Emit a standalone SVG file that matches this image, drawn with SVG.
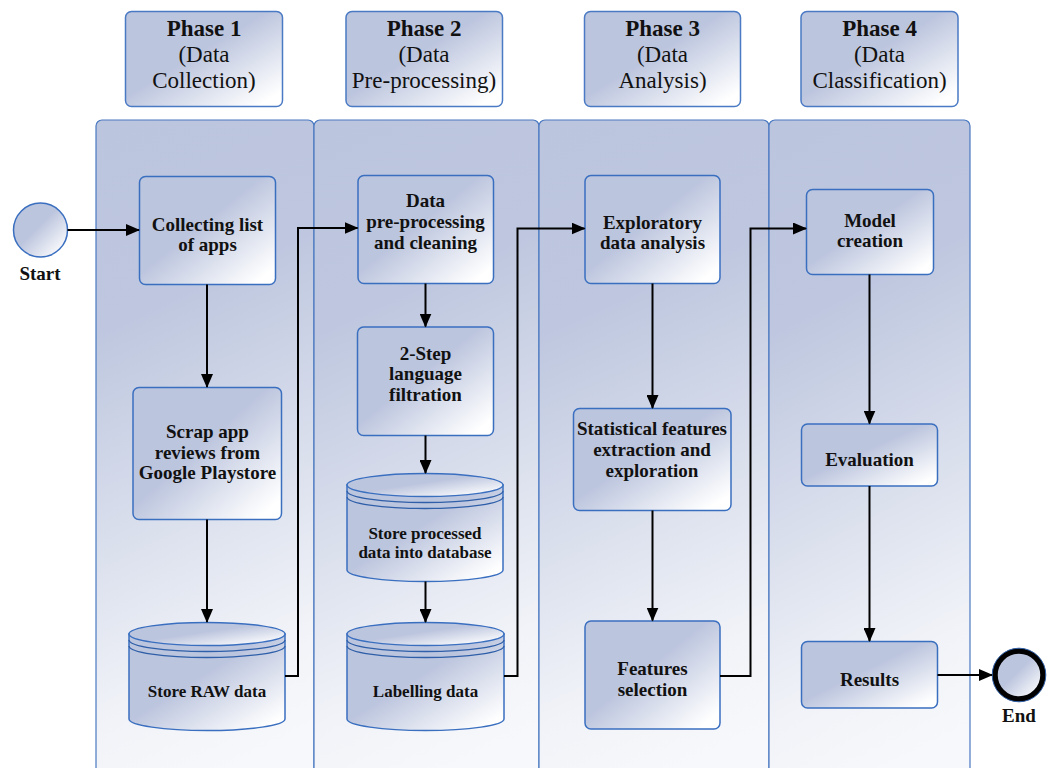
<svg xmlns="http://www.w3.org/2000/svg" width="1053" height="768" viewBox="0 0 1053 768">
<defs>
<linearGradient id="gNode" x1="0" y1="0" x2="1" y2="1">
<stop offset="0" stop-color="#bcc5de"/>
<stop offset="0.45" stop-color="#bcc5de"/>
<stop offset="0.92" stop-color="#ffffff"/>
<stop offset="1" stop-color="#ffffff"/>
</linearGradient>
<linearGradient id="gLane" x1="0" y1="0" x2="0.15" y2="1">
<stop offset="0" stop-color="#bcc5de"/>
<stop offset="0.3" stop-color="#bec7df"/>
<stop offset="0.85" stop-color="#f1f3f8"/>
<stop offset="1" stop-color="#f7f8fb"/>
</linearGradient>
<marker id="arr" markerUnits="userSpaceOnUse" markerWidth="14" markerHeight="12" refX="13" refY="6" orient="auto">
<path d="M0,0 L14,6 L0,12 Z" fill="#000"/>
</marker>
</defs>
<style>
.lane{fill:url(#gLane);stroke:#4a78c0;stroke-width:1.2}
.node{fill:url(#gNode);stroke:#3a6fc0;stroke-width:1.5}
.hdr{fill:url(#gNode);stroke:#4a7ac4;stroke-width:1.5}
.t{font-family:"Liberation Serif","Times New Roman",serif;font-weight:bold;font-size:19px;fill:#111;text-anchor:middle}
.tc{font-family:"Liberation Serif","Times New Roman",serif;font-weight:bold;font-size:17px;fill:#111;text-anchor:middle}
.h{font-family:"Liberation Serif","Times New Roman",serif;font-size:23px;fill:#111;text-anchor:middle}
.hb{font-weight:bold}
.c{fill:none;stroke:#000;stroke-width:2}
.ring{fill:none;stroke:#2f5fa8;stroke-width:1.3}
</style>

<g id="lanes">
<rect id="lane1" class="lane" x="96" y="120" width="218" height="700" rx="6"/>
<rect id="lane2" class="lane" x="314" y="120" width="225" height="700" rx="6"/>
<rect id="lane3" class="lane" x="539" y="120" width="230" height="700" rx="6"/>
<rect id="lane4" class="lane" x="769" y="120" width="201" height="700" rx="6"/>
</g>

<g id="phase1">
<rect class="hdr" x="125.5" y="11.5" width="157" height="95" rx="6"/>
<text class="h" x="204" y="36"><tspan class="hb">Phase 1</tspan><tspan x="204" dy="26">(Data</tspan><tspan x="204" dy="25.5">Collection)</tspan></text>
</g>
<g id="phase2">
<rect class="hdr" x="346" y="11.5" width="156.5" height="95" rx="6"/>
<text class="h" x="424" y="36"><tspan class="hb">Phase 2</tspan><tspan x="424" dy="26">(Data</tspan><tspan x="424" dy="25.5">Pre-processing)</tspan></text>
</g>
<g id="phase3">
<rect class="hdr" x="584.5" y="11.5" width="156" height="95" rx="6"/>
<text class="h" x="662.5" y="36"><tspan class="hb">Phase 3</tspan><tspan x="662.5" dy="26">(Data</tspan><tspan x="662.5" dy="25.5">Analysis)</tspan></text>
</g>
<g id="phase4">
<rect class="hdr" x="801" y="11.5" width="157" height="95" rx="6"/>
<text class="h" x="879.5" y="36"><tspan class="hb">Phase 4</tspan><tspan x="879.5" dy="26">(Data</tspan><tspan x="879.5" dy="25.5">Classification)</tspan></text>
</g>

<g id="start">
<circle cx="40.5" cy="230" r="27" fill="url(#gNode)" stroke="#3a6fc0" stroke-width="1.5"/>
<text class="t" x="40" y="280">Start</text>
</g>
<g id="end">
<circle cx="1019" cy="675" r="24" fill="url(#gNode)" stroke="#000" stroke-width="5.5"/>
<circle cx="1019" cy="675" r="26.8" fill="none" stroke="#2f5fa8" stroke-width="1"/>
<text class="t" x="1019" y="722">End</text>
</g>

<g id="n-collect">
<rect class="node" x="139.5" y="176.5" width="136" height="108" rx="6"/>
<text class="t" x="207.5" y="230.5">Collecting list<tspan x="207.5" dy="20.5">of apps</tspan></text>
</g>
<g id="n-scrap">
<rect class="node" x="133" y="387.5" width="148.5" height="132" rx="6"/>
<text class="t" x="207.5" y="438">Scrap app<tspan x="207.5" dy="20.5">reviews from</tspan><tspan x="207.5" dy="20.5">Google Playstore</tspan></text>
</g>
<g id="n-raw">
<path class="node" d="M129,634 L129,719 A78,11.5 0 0 0 285,719 L285,634 Z"/>
<ellipse class="node" cx="207" cy="634" rx="78" ry="11.5"/>
<path class="ring" d="M129,640 A78,11.5 0 0 0 285,640 M129,646 A78,11.5 0 0 0 285,646"/>
<text class="tc" x="207" y="697">Store RAW data</text>
</g>

<g id="n-prep">
<rect class="node" x="358" y="175.5" width="135.5" height="108" rx="6"/>
<text class="t" x="425.5" y="207">Data<tspan x="425.5" dy="20.8">pre-processing</tspan><tspan x="425.5" dy="20.8">and cleaning</tspan></text>
</g>
<g id="n-filter">
<rect class="node" x="357.5" y="327" width="136" height="108.5" rx="6"/>
<text class="t" x="425.5" y="359.5">2-Step<tspan x="425.5" dy="20.8">language</tspan><tspan x="425.5" dy="20.8">filtration</tspan></text>
</g>
<g id="n-store">
<path class="node" d="M347,485 L347,570 A78,11.5 0 0 0 503,570 L503,485 Z"/>
<ellipse class="node" cx="425" cy="485" rx="78" ry="11.5"/>
<path class="ring" d="M347,491 A78,11.5 0 0 0 503,491 M347,497 A78,11.5 0 0 0 503,497"/>
<text class="tc" x="425" y="539">Store processed<tspan x="425" dy="18.8">data into database</tspan></text>
</g>
<g id="n-label">
<path class="node" d="M347,634 L347,719 A78.5,11.5 0 0 0 504,719 L504,634 Z"/>
<ellipse class="node" cx="425.5" cy="634" rx="78.5" ry="11.5"/>
<path class="ring" d="M347,640 A78.5,11.5 0 0 0 504,640 M347,646 A78.5,11.5 0 0 0 504,646"/>
<text class="tc" x="425.5" y="697">Labelling data</text>
</g>

<g id="n-eda">
<rect class="node" x="585" y="175.5" width="135" height="108" rx="6"/>
<text class="t" x="652.5" y="228.5">Exploratory<tspan x="652.5" dy="20.8">data analysis</tspan></text>
</g>
<g id="n-stat">
<rect class="node" x="573.5" y="408.5" width="157.5" height="102" rx="6"/>
<text class="t" x="652" y="435">Statistical features<tspan x="652" dy="21">extraction and</tspan><tspan x="652" dy="21">exploration</tspan></text>
</g>
<g id="n-feat">
<rect class="node" x="585" y="621" width="135" height="108" rx="6"/>
<text class="t" x="652.5" y="675">Features<tspan x="652.5" dy="21">selection</tspan></text>
</g>

<g id="n-model">
<rect class="node" x="806.5" y="189.5" width="127" height="85" rx="6"/>
<text class="t" x="870" y="226.5">Model<tspan x="870" dy="20.5">creation</tspan></text>
</g>
<g id="n-eval">
<rect class="node" x="801.5" y="424" width="136" height="62" rx="6"/>
<text class="t" x="869.5" y="465.5">Evaluation</text>
</g>
<g id="n-results">
<rect class="node" x="801.5" y="641.5" width="136" height="66.5" rx="6"/>
<text class="t" x="869.5" y="686">Results</text>
</g>

<g id="connectors">
<path class="c" marker-end="url(#arr)" d="M67.5,230 L139,230"/>
<path class="c" marker-end="url(#arr)" d="M207,284.5 L207,387"/>
<path class="c" marker-end="url(#arr)" d="M207,519.5 L207,622"/>
<path class="c" marker-end="url(#arr)" d="M285,676 L298,676 L298,228 L357.5,228"/>
<path class="c" marker-end="url(#arr)" d="M425.5,283.5 L425.5,326.5"/>
<path class="c" marker-end="url(#arr)" d="M425.5,435.5 L425.5,473"/>
<path class="c" marker-end="url(#arr)" d="M425.5,581.5 L425.5,622"/>
<path class="c" marker-end="url(#arr)" d="M504,676 L517.5,676 L517.5,228.5 L584.5,228.5"/>
<path class="c" marker-end="url(#arr)" d="M652.5,283.5 L652.5,408"/>
<path class="c" marker-end="url(#arr)" d="M652.5,510.5 L652.5,620.5"/>
<path class="c" marker-end="url(#arr)" d="M720,676 L750.5,676 L750.5,228.5 L806,228.5"/>
<path class="c" marker-end="url(#arr)" d="M869.5,274.5 L869.5,423.5"/>
<path class="c" marker-end="url(#arr)" d="M869.5,486 L869.5,641"/>
<path class="c" marker-end="url(#arr)" d="M937.5,675 L992,675"/>
</g>
</svg>
